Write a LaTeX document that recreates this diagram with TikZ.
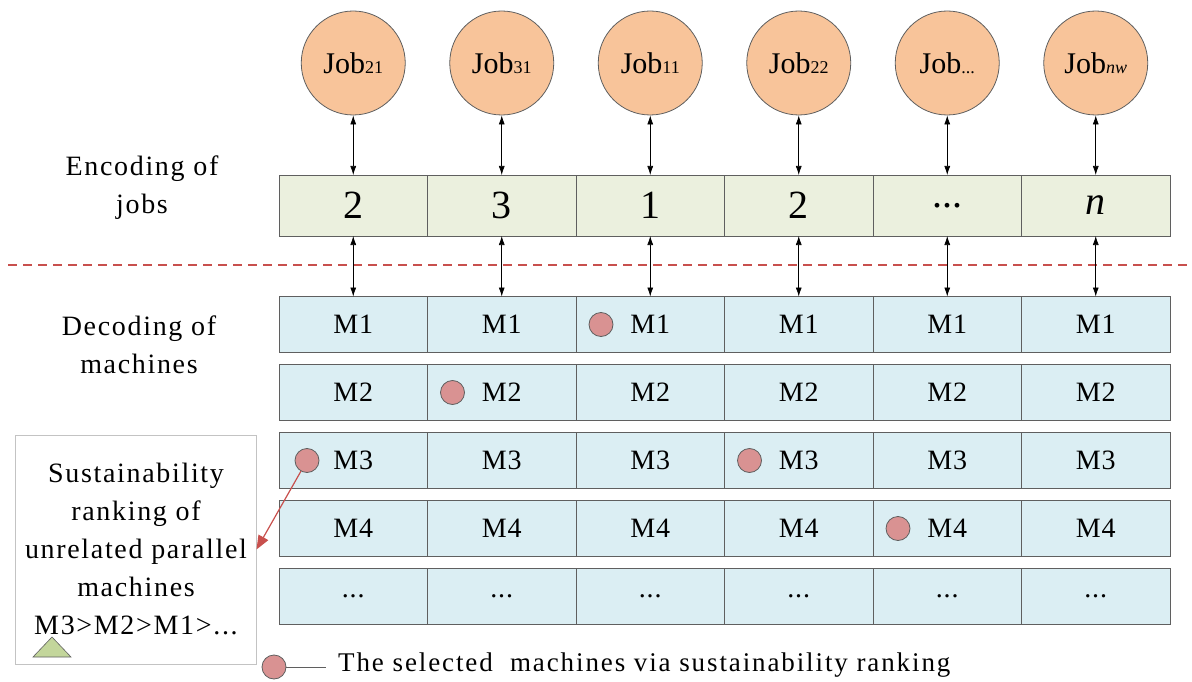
\documentclass[tikz,border=0pt]{standalone}
\usepackage{fontspec}
\setmainfont{Liberation Serif}
\newfontfamily\wide[LetterSpace=6]{Liberation Serif}
\newfontfamily\widelegend[LetterSpace=7]{Liberation Serif}
\newfontfamily\midwide[LetterSpace=3]{Liberation Serif}
\usetikzlibrary{arrows.meta,calc}
\definecolor{jobfill}{RGB}{248,196,154}
\definecolor{encfill}{RGB}{235,240,222}
\definecolor{macfill}{RGB}{219,238,243}
\definecolor{markfill}{RGB}{217,146,146}
\definecolor{edge}{RGB}{95,95,95}
\definecolor{redline}{RGB}{200,80,77}
\definecolor{trifill}{RGB}{195,214,155}
\definecolor{boxedge}{RGB}{195,195,195}
\newcommand{\tdots}{...}
\newcommand{\sbs}[1]{{\fontsize{18}{18}\selectfont #1}}
\begin{document}
\begin{tikzpicture}[x=1pt,y=-1pt,
  jobnode/.style={circle, draw=edge, line width=0.8pt, fill=jobfill, minimum size=104pt, inner sep=0pt, font=\fontsize{30}{30}\selectfont},
  enccell/.style={draw=edge, line width=0.8pt, fill=encfill, minimum width=148.5pt, minimum height=61pt, inner sep=0pt, outer sep=0pt, font=\fontsize{40}{40}\selectfont},
  maccell/.style={draw=edge, line width=0.8pt, fill=macfill, minimum width=148.5pt, minimum height=56pt, inner sep=0pt, outer sep=0pt, font=\midwide\fontsize{28}{28}\selectfont},
  marker/.style={circle, draw=edge, line width=0.8pt, fill=markfill, minimum size=24pt, inner sep=0pt},
  dbl/.style={{Latex[length=9pt,width=6pt]}-{Latex[length=9pt,width=6pt]}, line width=0.7pt, black},
  lbl/.style={align=center, font=\wide\fontsize{28}{38}\selectfont}
]
\useasboundingbox (0,0) rectangle (1192,682);
% job circles
\foreach \i/\t in {1/21,2/31,3/11,4/22,5/\tdots,6/\textit{nw}}{
  \node[jobnode] (job\i) at ({279+148.5*(\i-0.5)},63) {Job\sbs{\t}};
}
% encoding cells
\foreach \i/\t in {1/2,2/3,3/1,4/2,5/\tdots,6/\textit{n}}{
  \node[enccell] (enc\i) at ({279+148.5*(\i-0.5)},205.5) {\t};
}
% machine cells
\foreach \r/\t in {1/M1,2/M2,3/M3,4/M4,5/\tdots}{
  \foreach \i in {1,2,3,4,5,6}{
    \node[maccell] (m\r\i) at ({279+148.5*(\i-0.5)},{324.5+68*(\r-1)}) {\t};
  }
}
% dashed separator
\coordinate (dl) at (8,265);
\coordinate (dr) at (1192,265);
\draw[redline, line width=1.6pt, dash pattern=on 9pt off 6pt] (dl) -- (dr);
% arrows
\foreach \i in {1,2,3,4,5,6}{
  \draw[dbl] (job\i) -- (enc\i);
  \draw[dbl] (enc\i) -- (m1\i);
}
% labels
\node[lbl] (enclbl) at (142,188) {Encoding of\\jobs};
\node[lbl] (declbl) at (139,345) {Decoding of\\machines};
% markers
\node[marker] (mkA) at ($(m13.west)+(25,0)$) {};
\node[marker] (mkB) at ($(m22.west)+(25,0)$) {};
\node[marker] (mkC) at ($(m31.west)+(28,0)$) {};
\node[marker] (mkD) at ($(m34.west)+(25,0)$) {};
\node[marker] (mkE) at ($(m45.west)+(25,0)$) {};
% sustainability box
\node[draw=boxedge, line width=1pt, fill=white, minimum width=241pt, minimum height=229pt, inner sep=0pt] (sbox) at (135.5,549.5) {};
\node[lbl] (stext) at (136,549) {Sustainability\\ranking of\\unrelated parallel\\machines\\M3>M2>M1>\tdots};
\draw[edge, line width=0.6pt, fill=trifill] (33,657) -- (52,637) -- (71,657) -- cycle;
\draw[redline, line width=1.2pt, -{Triangle[length=14pt,width=11pt]}] (mkC) -- (sbox.east);
% legend
\node[marker] (leg) at (274,667) {};
\coordinate (legend) at (326,667);
\draw[edge, line width=1pt] (leg) -- (legend);
\node[anchor=west, font=\widelegend\fontsize{27}{27}\selectfont, inner sep=0pt] (legtext) at (338,665) {The selected\ \ machines via sustainability ranking};
\end{tikzpicture}
\end{document}
